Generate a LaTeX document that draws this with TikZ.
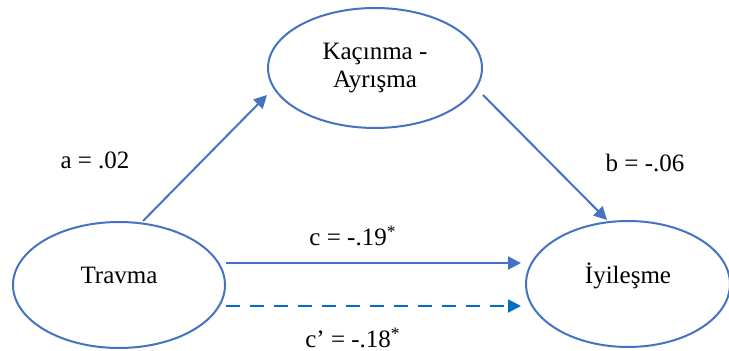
\documentclass[tikz,border=0pt]{standalone}
\usepackage{fontspec}
\setmainfont{Liberation Serif}
\usetikzlibrary{shapes.geometric,arrows.meta}
\definecolor{bleuA}{RGB}{68,114,196}
\definecolor{bleuB}{RGB}{0,112,192}
\begin{document}
\begin{tikzpicture}[x=0.5pt,y=-0.5pt,
        bulle/.style={draw=bleuA,line width=1pt,ellipse,inner sep=0pt,
            minimum height=63pt,align=center,
            font=\fontsize{12.5}{14}\selectfont},
        fleche/.style={draw=bleuA,line width=1pt,-{Triangle[length=6.5pt,width=6.5pt]}},
        coef/.style={font=\fontsize{12.5}{14}\selectfont}]
        \useasboundingbox (0,0) rectangle (729,351);

        % Variables (ellipses)
        \node[bulle,minimum width=107pt,minimum height=60pt] (kac) at (375,68) {Kaçınma -\\Ayrışma};
        \node[bulle,minimum width=106pt,text depth=10pt] (trv) at (119,285) {Travma};
        \node[bulle,minimum width=102pt,text depth=11pt] (iyi) at (628,284) {İyileşme};

        % Chemins a, b, c et c'
        \draw[fleche] ([xshift=12pt]trv.north) -- ([yshift=-13.5pt]kac.west);
        \draw[fleche] ([yshift=-13.5pt]kac.east) -- ([xshift=-10.5pt]iyi.north);
        \draw[fleche] ([yshift=11pt]trv.east) -- ([yshift=11pt,xshift=-2pt]trv.east -| iyi.west);
        \draw[fleche,draw=bleuB,dash pattern=on 7pt off 5pt,
            -{Triangle[length=6.5pt,width=6.5pt,fill=bleuB]}]
            ([yshift=-10.5pt]trv.east) -- ([yshift=-10.5pt,xshift=-2pt]trv.east -| iyi.west);

        % Coefficients
        \node[coef] (la) at (95,160) {a = .02};
        \node[coef] (lb) at (645,163) {b = -.06};
        \node[coef] (lc) at (353,236) {c = -.19\textsuperscript{*}};
        \node[coef] (lcp) at (353,338) {c' = -.18\textsuperscript{*}};

\end{tikzpicture}
\end{document}
